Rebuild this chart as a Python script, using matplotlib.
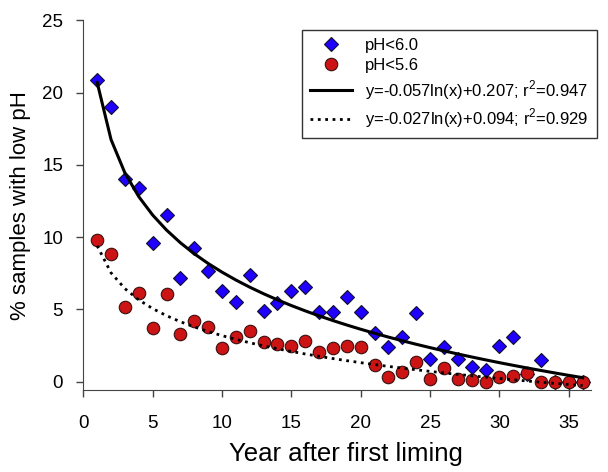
import numpy as np
import matplotlib
matplotlib.use("Agg")
import matplotlib.pyplot as plt

plt.rcParams["font.family"] = ["Liberation Sans", "DejaVu Sans"]
plt.rcParams["mathtext.fontset"] = "custom"
plt.rcParams["mathtext.rm"] = "Liberation Sans"

# Дані
years = np.arange(1, 37)
ph60 = [20.9, 19.0, 14.0, 13.4, 9.6, 11.5, 7.15, 9.27, 7.66, 6.25,
        5.53, 7.38, 4.91, 5.42, 6.29, 6.57, 4.84, 4.84, 5.88, 4.85,
        3.39, 2.38, 3.11, 4.77, 1.55, 2.38, 1.55, 1.04, 0.8, 2.47,
        3.11, 0.5, 1.5, 0.0, 0.0, 0.0]
ph56 = [9.8, 8.8, 5.14, 6.1, 3.73, 6.07, 3.28, 4.2, 3.76, 2.31,
        3.11, 3.53, 2.72, 2.61, 2.49, 2.84, 2.03, 2.31, 2.47, 2.4,
        1.15, 0.3, 0.65, 1.38, 0.19, 0.92, 0.19, 0.12, 0.0, 0.3,
        0.39, 0.58, 0.0, 0.0, 0.0, 0.0]

# коефіцієнти логарифмічних регресій (з легенди), у частках
fit60 = (-0.057, 0.207)
fit56 = (-0.027, 0.094)

trend60 = 100 * (fit60[0] * np.log(years) + fit60[1])
trend56 = 100 * (fit56[0] * np.log(years) + fit56[1])

fig = plt.figure(figsize=(6.08, 4.72), dpi=100)
ax = fig.add_axes([0.137, 0.174, 0.835, 0.783])

ax.plot(years, ph60, linestyle="none", marker="D", markersize=7.2,
        markerfacecolor="#1f00ff", markeredgecolor="#101030",
        markeredgewidth=0.8, label="pH<6.0", zorder=3)
ax.plot(years, ph56, linestyle="none", marker="o", markersize=9,
        markerfacecolor="#cc1414", markeredgecolor="#3a1010",
        markeredgewidth=0.8, label="pH<5.6", zorder=4)
ax.plot(years, trend60, color="black", linewidth=2.2,
        label="y=-0.057ln(x)+0.207; r$^2$=0.947", zorder=5)
ax.plot(years, trend56, color="black", linewidth=2.0, linestyle=":",
        label="y=-0.027ln(x)+0.094; r$^2$=0.929", zorder=5)

ax.set_xlim(0, 36.6)
ax.set_ylim(-0.57, 25)
ax.set_xticks(range(0, 36, 5))
ax.set_yticks(range(0, 26, 5))
ax.spines["top"].set_visible(False)
ax.spines["right"].set_visible(False)
ax.spines["left"].set_color("#444444")
ax.spines["bottom"].set_color("#444444")
ax.tick_params(direction="out", length=5, width=1, colors="#444444",
               labelcolor="black", labelsize=13.5)
ax.tick_params(axis="x", pad=13)
ax.tick_params(axis="y", pad=9.5)

ax.set_xlabel("Year after first liming", fontsize=18.5, labelpad=10)
ax.xaxis.set_label_coords(0.517, -0.14)
ax.set_ylabel("% samples with low pH", fontsize=16, labelpad=8)

leg = ax.legend(loc="upper right", bbox_to_anchor=(0.995, 0.955),
                bbox_transform=fig.transFigure, fontsize=12,
                frameon=True, fancybox=False, edgecolor="black",
                handlelength=2.5, labelspacing=0.3, borderpad=0.5,
                handletextpad=0.8)
leg.get_frame().set_linewidth(1.0)

fig.savefig("out.png", dpi=100)
